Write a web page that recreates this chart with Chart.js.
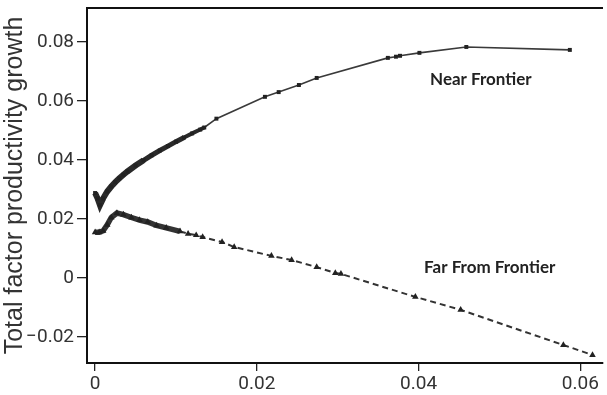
<!DOCTYPE html>
<html>
<head>
<meta charset="utf-8">
<script src="https://cdn.jsdelivr.net/npm/chart.js@4"></script>
<style>
  html, body { margin: 0; padding: 0; background: #fff; }
  #wrap { width: 607px; height: 395px; }
</style>
</head>
<body>
<div id="wrap"><canvas id="tfpChart" width="607" height="395"></canvas></div>
<script>
// Near Frontier series (solid line, small markers)
var nearX = [0, 0.0003, 0.0006, 0.001, 0.0015, 0.002, 0.0025, 0.003, 0.0035, 0.004, 0.005, 0.006, 0.007, 0.008, 0.009, 0.010, 0.011, 0.012, 0.013, 0.0135, 0.015, 0.021, 0.0227, 0.0252, 0.0274, 0.0362, 0.0372, 0.0377, 0.0401, 0.0459, 0.0587];
var nearY = [0.0288, 0.027, 0.0247, 0.027, 0.0293, 0.031, 0.0325, 0.0338, 0.035, 0.0361, 0.0381, 0.0399, 0.0416, 0.0432, 0.0447, 0.0462, 0.0476, 0.049, 0.0503, 0.051, 0.054, 0.0614, 0.063, 0.0654, 0.0678, 0.0746, 0.075, 0.0753, 0.0763, 0.0783, 0.0773];

// Far From Frontier series (dashed line, triangles)
var farX = [0, 0.0005, 0.001, 0.0015, 0.002, 0.0027, 0.0035, 0.0045, 0.0055, 0.0065, 0.0076, 0.0088, 0.0105, 0.0115, 0.0125, 0.0133, 0.0157, 0.0172, 0.0218, 0.0243, 0.0274, 0.0297, 0.0304, 0.0396, 0.0452, 0.0579, 0.0615];
var farY = [0.0155, 0.0155, 0.016, 0.018, 0.0205, 0.022, 0.0215, 0.0205, 0.0196, 0.019, 0.0178, 0.017, 0.0158, 0.015, 0.0145, 0.0139, 0.0122, 0.0105, 0.0075, 0.0061, 0.0037, 0.0017, 0.0014, -0.0064, -0.0108, -0.0227, -0.0261];

var xTicks = [0, 0.02, 0.04, 0.06];
var yTicks = [-0.02, 0, 0.02, 0.04, 0.06, 0.08];

// Series labels placed in data space
var labelText = ['Near Frontier', 'Far From Frontier'];
var labelX = [0.0477, 0.0488];
var labelY = [0.0671, 0.0034];

// where the markers crowd together into a thick band
var nearDenseEnd = 0.0135;
var farDenseEnd = 0.0089;

function toPoints(xs, ys) {
  return xs.map(function(x, i) { return { x: x, y: ys[i] }; });
}

function fmt(v) {
  if (v === 0) return '0';
  return (v < 0 ? '\u2212' : '') + Math.abs(v).toFixed(2);
}

// band is thickest at the very start and thins out
function nearWidth(x) {
  if (x < 0.006) return 6;
  if (x < 0.0105) return 5;
  if (x < nearDenseEnd) return 4;
  return 1.6;
}

// draws the top frame line and the series labels
var extrasPlugin = {
  id: 'extras',
  afterDatasetsDraw: function(chart) {
    var ctx = chart.ctx;
    var area = chart.chartArea;
    var xs = chart.scales.x, ys = chart.scales.y;
    ctx.save();
    ctx.strokeStyle = '#111';
    ctx.lineWidth = 2;
    ctx.beginPath();
    ctx.moveTo(area.left, area.top);
    ctx.lineTo(area.right, area.top);
    ctx.stroke();

    ctx.fillStyle = '#222';
    ctx.font = 'bold 17px Lato';
    ctx.textAlign = 'center';
    ctx.textBaseline = 'middle';
    labelText.forEach(function(t, i) {
      ctx.fillText(t, xs.getPixelForValue(labelX[i]), ys.getPixelForValue(labelY[i]));
    });
    ctx.restore();
  }
};

new Chart(document.getElementById('tfpChart'), {
  type: 'scatter',
  data: {
    datasets: [
      {
        label: 'Near Frontier',
        data: toPoints(nearX, nearY),
        showLine: true,
        borderColor: '#3a3a3a',
        borderWidth: 1.6,
        backgroundColor: '#222',
        pointStyle: 'rect',
        pointRadius: 2.8,
        pointBorderWidth: 0,
        tension: 0,
        segment: {
          borderWidth: function(c) { return nearWidth(c.p0.parsed.x); },
          borderColor: function(c) { return c.p0.parsed.x < nearDenseEnd ? '#2a2a2a' : '#3a3a3a'; }
        }
      },
      {
        label: 'Far From Frontier',
        data: toPoints(farX, farY),
        showLine: true,
        borderColor: '#333',
        borderWidth: 2,
        borderDash: [6, 4],
        backgroundColor: '#222',
        pointStyle: 'triangle',
        pointRadius: 3.8,
        pointBorderWidth: 0,
        tension: 0,
        segment: {
          borderWidth: function(c) { return c.p0.parsed.x < farDenseEnd ? 5.5 : 2; },
          borderDash: function(c) { return c.p0.parsed.x < farDenseEnd ? [] : [6, 4]; }
        }
      }
    ]
  },
  options: {
    responsive: false,
    animation: false,
    layout: { padding: { top: 8, right: 0, bottom: 0, left: 0 } },
    plugins: {
      legend: { display: false },
      tooltip: { enabled: false }
    },
    scales: {
      x: {
        type: 'linear',
        min: -0.001,
        max: 0.0628,
        afterBuildTicks: function(axis) {
          axis.ticks = xTicks.map(function(v) { return { value: v }; });
        },
        afterFit: function(axis) {
          axis.height = 32;
          axis.paddingLeft = 0;
          axis.paddingRight = 0;
        },
        grid: {
          drawOnChartArea: false,
          drawTicks: true,
          tickLength: 8,
          tickColor: '#222',
          lineWidth: 1.3
        },
        border: { display: true, color: '#111', width: 2 },
        ticks: {
          color: '#333',
          padding: 2,
          maxRotation: 0,
          font: { family: 'Roboto', size: 19 },
          callback: function(v) { return fmt(v); }
        }
      },
      y: {
        type: 'linear',
        min: -0.0288,
        max: 0.0915,
        afterBuildTicks: function(axis) {
          axis.ticks = yTicks.map(function(v) { return { value: v }; });
        },
        afterFit: function(axis) {
          axis.width = 87;
          axis.paddingTop = 0;
          axis.paddingBottom = 0;
        },
        grid: {
          drawOnChartArea: false,
          drawTicks: true,
          tickLength: 10,
          tickColor: '#222',
          lineWidth: 1.3
        },
        border: { display: true, color: '#111', width: 2 },
        title: {
          display: true,
          text: 'Total factor productivity growth',
          color: '#333',
          font: { family: 'Liberation Sans', size: 25 },
          padding: { top: 0, bottom: 0 }
        },
        ticks: {
          color: '#333',
          padding: 3,
          font: { family: 'Roboto', size: 19 },
          callback: function(v) { return fmt(v); }
        }
      }
    }
  },
  plugins: [extrasPlugin]
});
</script>
</body>
</html>
